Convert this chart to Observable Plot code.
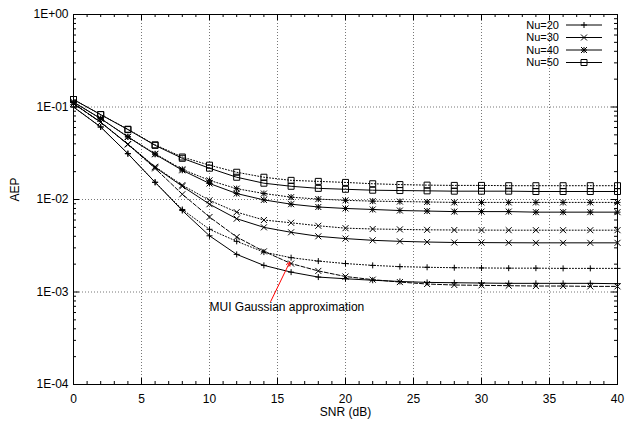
<!DOCTYPE html>
<html><head><meta charset="utf-8">
<script src="https://cdn.jsdelivr.net/npm/d3@7"></script>
<script src="https://cdn.jsdelivr.net/npm/@observablehq/plot@0.6"></script>
<style>
html,body{margin:0;padding:0;background:#fff;}
#chart{position:relative;width:625px;height:423px;}
</style></head><body><div id="chart"></div>
<script>
// ---- data ----
const snr = [0,2,4,6,8,10,12,14,16,18,20,22,24,26,28,30,32,34,36,38,40];
const sim20   = [0.100,0.0608,0.0313,0.01535,0.0076,0.00405,0.00255,0.00194,0.00164,0.00145,0.00139,0.00134,0.00130,0.00127,0.00126,0.00125,0.00124,0.00124,0.00124,0.00124,0.00123];
const gauss20 = [0.100,0.0608,0.0313,0.01535,0.0078,0.00476,0.00353,0.00270,0.00235,0.00216,0.00203,0.00194,0.00188,0.00185,0.00183,0.00182,0.00181,0.00181,0.00180,0.00180,0.00180];
const sim30   = [0.109,0.0684,0.0395,0.0223,0.0139,0.0089,0.0062,0.0050,0.00442,0.0040,0.00378,0.00362,0.00353,0.00347,0.00343,0.00342,0.00341,0.00340,0.00340,0.00340,0.00340];
const gauss30 = [0.109,0.0684,0.0398,0.0226,0.0143,0.0098,0.0073,0.0060,0.0056,0.0052,0.0049,0.0048,0.00475,0.0047,0.00468,0.00467,0.00466,0.00466,0.00466,0.00466,0.00466];
const sim40   = [0.113,0.075,0.0474,0.0308,0.0207,0.0149,0.0116,0.0099,0.0089,0.0083,0.0080,0.0078,0.0076,0.0075,0.0074,0.0074,0.0074,0.0073,0.0073,0.0073,0.0073];
const gauss40 = [0.113,0.075,0.0478,0.0312,0.0212,0.0161,0.0131,0.0116,0.0106,0.0101,0.0098,0.0096,0.0095,0.0094,0.0093,0.0093,0.0093,0.0093,0.0093,0.0093,0.0093];
const sim50   = [0.1205,0.0828,0.0570,0.0385,0.0279,0.0218,0.0174,0.0150,0.0139,0.0132,0.0129,0.0126,0.0125,0.0124,0.0123,0.0123,0.0123,0.0122,0.0122,0.0122,0.0122];
const gauss50 = [0.1205,0.0828,0.0575,0.0390,0.0288,0.0235,0.0197,0.0174,0.0161,0.0157,0.0153,0.0148,0.0145,0.0143,0.0142,0.0142,0.0141,0.0141,0.0141,0.0141,0.0141];
const muiGauss = [0.109,0.0684,0.0395,0.0217,0.0114,0.00647,0.00393,0.00275,0.00203,0.00169,0.00147,0.00136,0.00128,0.00122,0.00119,0.00118,0.00117,0.00116,0.00116,0.00115,0.00115];

const legendLabels = ["Nu=20","Nu=30","Nu=40","Nu=50"];
const xTicks = [0,5,10,15,20,25,30,35,40];
const xGrid = [5,10,15,20,25,30,35];
const yTicks = [1e-4,1e-3,1e-2,1e-1,1];
const yTickLabels = ["1E-04","1E-03","1E-02","1E-01","1E+00"];
const yGrid = [1e-3,1e-2,1e-1];
const xTitle = "SNR (dB)";
const yTitle = "AEP";
const annotLabel = "MUI Gaussian approximation";
const annotLabelAt = [10, 6.8e-4];
const annotArrowFrom = [14.5, 7.9e-4];
const annotArrowTo = [15.9, 2.1e-3];

// ---- symbols (gnuplot-like) ----
const HS = 3;
const symPlus = {draw(c){c.moveTo(-HS,0);c.lineTo(HS,0);c.moveTo(0,-HS);c.lineTo(0,HS);}};
const symTimes = {draw(c){c.moveTo(-HS,-HS);c.lineTo(HS,HS);c.moveTo(-HS,HS);c.lineTo(HS,-HS);}};
const symStar = {draw(c){symPlus.draw(c);symTimes.draw(c);}};
const symBox = {draw(c){c.moveTo(-HS,-HS);c.lineTo(HS,-HS);c.lineTo(HS,HS);c.lineTo(-HS,HS);c.closePath();}};

const series = [
  {v: gauss50, sym: symBox, dash: "1,2"},
  {v: gauss40, sym: symStar, dash: "1,2"},
  {v: gauss30, sym: symTimes, dash: "1,2"},
  {v: gauss20, sym: symPlus, dash: "1,2"},
  {v: muiGauss, sym: symTimes, dash: "4,2"},
  {v: sim50, sym: symBox, dash: null},
  {v: sim40, sym: symStar, dash: null},
  {v: sim30, sym: symTimes, dash: null},
  {v: sim20, sym: symPlus, dash: null}
];
const legendSyms = [symPlus, symTimes, symStar, symBox];

const PW = 625 - 73 - 8, PH = 423 - 14 - 39;
const xMinor = d3.range(0, 41, 1);
const yMinor = [];
for (let e = -4; e < 0; e++) for (let m = 2; m <= 9; m++) yMinor.push(m * Math.pow(10, e));

const marks = [
  Plot.ruleX(xGrid, {x: d => d, stroke: "#777", strokeDasharray: "1,2"}),
  Plot.ruleY(yGrid, {y: d => d, stroke: "#777", strokeDasharray: "1,2"}),
];
for (const s of series) {
  const rows = snr.map((x, i) => ({x, y: s.v[i]}));
  marks.push(Plot.line(rows, {x: "x", y: "y", stroke: "black", strokeWidth: 1, strokeDasharray: s.dash}));
  marks.push(Plot.dot(rows, {x: "x", y: "y", symbol: s.sym, fill: "none", stroke: "black", strokeWidth: 1}));
}
marks.push(
  Plot.tickX(xMinor, {x: d => d, insetTop: PH - 3, stroke: "black"}),
  Plot.tickX(xMinor, {x: d => d, insetBottom: PH - 3, stroke: "black"}),
  Plot.tickX(xTicks, {x: d => d, insetTop: PH - 6, stroke: "black"}),
  Plot.tickX(xTicks, {x: d => d, insetBottom: PH - 6, stroke: "black"}),
  Plot.tickY(yMinor, {y: d => d, insetRight: PW - 3, stroke: "black"}),
  Plot.tickY(yMinor, {y: d => d, insetLeft: PW - 3, stroke: "black"}),
  Plot.tickY(yTicks, {y: d => d, insetRight: PW - 6, stroke: "black"}),
  Plot.tickY(yTicks, {y: d => d, insetLeft: PW - 6, stroke: "black"}),
  Plot.text([{x: annotLabelAt[0], y: annotLabelAt[1], t: annotLabel}], {x: "x", y: "y", text: "t", textAnchor: "start", fill: "black"}),
  Plot.arrow([{x1: annotArrowFrom[0], y1: annotArrowFrom[1], x2: annotArrowTo[0], y2: annotArrowTo[1]}], {x1: "x1", y1: "y1", x2: "x2", y2: "y2", stroke: "red", strokeWidth: 1, headLength: 6}),
  Plot.text([xTitle], {text: d => d, frameAnchor: "bottom", dy: 31.5, fill: "black"}),
  Plot.text([yTitle], {text: d => d, frameAnchor: "left", dx: -58.5, dy: 2, rotate: -90, fill: "black"}),
  Plot.frame({stroke: "black", strokeWidth: 1})
);

const plot = Plot.plot({
  width: 625, height: 423,
  marginLeft: 73, marginRight: 8, marginTop: 14, marginBottom: 39,
  style: {fontFamily: "'Liberation Sans', Arial, Helvetica, sans-serif", fontSize: "12px", background: "#fff", color: "black"},
  x: {domain: [0, 40], ticks: xTicks, tickSize: 0, tickPadding: 10, label: null},
  y: {type: "log", domain: [1e-4, 1], ticks: yTicks, tickFormat: d => yTickLabels[yTicks.indexOf(d)], tickSize: 0, tickPadding: 5, label: null},
  marks
});
document.getElementById("chart").appendChild(plot);

// legend (inside top-right)
const svg = d3.select(plot);
const lg = svg.append("g").attr("font-family", "'Liberation Sans', Arial, Helvetica, sans-serif").attr("font-size", 11);
legendLabels.forEach((lab, i) => {
  const y = 25 + i * 12.5;
  lg.append("text").attr("x", 559).attr("y", y).attr("dy", "0.35em").attr("text-anchor", "end").attr("fill", "black").text(lab);
  lg.append("line").attr("x1", 566).attr("x2", 602).attr("y1", y).attr("y2", y).attr("stroke", "black");
  lg.append("path").attr("transform", `translate(584,${y})`).attr("d", d3.symbol(legendSyms[i])()).attr("fill", "none").attr("stroke", "black");
});
</script></body></html>
